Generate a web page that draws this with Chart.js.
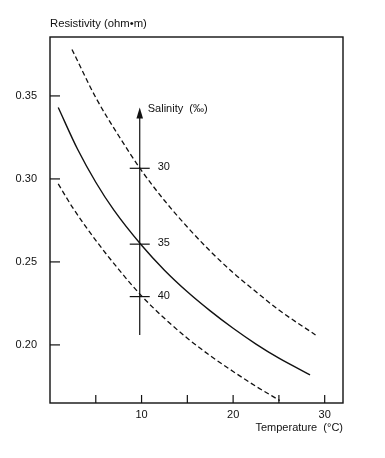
<!DOCTYPE html>
<html><head><meta charset="utf-8">
<script src="https://cdn.jsdelivr.net/npm/chart.js@4/dist/chart.umd.min.js"></script>
<style>html,body{margin:0;padding:0;background:#fff}canvas{display:block}</style>
</head><body>
<canvas id="c" width="385" height="458"></canvas>
<script>
// Temperature (°C) and resistivity (ohm·m)
const tempS30 = [2.4, 5, 7.5, 10, 12.5, 15, 17.5, 20, 22.5, 25, 29];
const resS30  = [0.378, 0.349, 0.326, 0.305, 0.287, 0.271, 0.2565, 0.2435, 0.232, 0.221, 0.206];
const tempS35 = [0.9, 3, 5, 7, 10, 12.5, 15, 17.5, 20, 22.5, 25, 28.4];
const resS35  = [0.343, 0.318, 0.298, 0.281, 0.260, 0.245, 0.232, 0.2205, 0.210, 0.2005, 0.192, 0.182];
const tempS40 = [0.9, 2.5, 5, 7.5, 10, 12.5, 15, 17.5, 20, 22.5, 25.1];
const resS40  = [0.297, 0.2825, 0.263, 0.2455, 0.2295, 0.216, 0.204, 0.1935, 0.184, 0.175, 0.1665];

const xTicks = [5, 10, 15, 20, 25, 30];
const xTickLabels = ['', '10', '', '20', '', '30'];
const yTicks = [0.20, 0.25, 0.30, 0.35];
const yTickLabels = ['0.20', '0.25', '0.30', '0.35'];

// Salinity scale drawn inside the plot
const salinityAxisTemp = 9.8;
const salinityAxisRange = [0.206, 0.343];
const salinityValues = ['30', '35', '40'];
const salinityRes = [0.3064, 0.2607, 0.2291];

const yTitle = 'Resistivity (ohm•m)';
const xTitle = 'Temperature  (°C)';
const salTitle = 'Salinity  (‰)';

const FONT = '"Liberation Sans", Arial, sans-serif';
const INK = '#111';

function pts(t, r) { return t.map((v, i) => ({x: v, y: r[i]})); }

const decor = {
  id: 'decor',
  afterDraw(chart) {
    const {ctx, chartArea: a, scales: {x, y}} = chart;
    ctx.save();
    ctx.strokeStyle = INK; ctx.fillStyle = INK; ctx.lineWidth = 1.4;
    // frame
    ctx.strokeRect(a.left, a.top, a.right - a.left, a.bottom - a.top);
    // inner ticks
    ctx.lineWidth = 1.2;
    yTicks.forEach(v => { const py = y.getPixelForValue(v); ctx.beginPath(); ctx.moveTo(a.left, py); ctx.lineTo(a.left + 10, py); ctx.stroke(); });
    xTicks.forEach(v => { const px = x.getPixelForValue(v); ctx.beginPath(); ctx.moveTo(px, a.bottom); ctx.lineTo(px, a.bottom - 8); ctx.stroke(); });
    // salinity axis
    const sx = x.getPixelForValue(salinityAxisTemp);
    const y0 = y.getPixelForValue(salinityAxisRange[0]);
    const y1 = y.getPixelForValue(salinityAxisRange[1]);
    ctx.lineWidth = 1.2;
    ctx.beginPath(); ctx.moveTo(sx, y0); ctx.lineTo(sx, y1 + 6); ctx.stroke();
    ctx.beginPath(); ctx.moveTo(sx, y1); ctx.lineTo(sx - 3.3, y1 + 11); ctx.lineTo(sx + 3.3, y1 + 11); ctx.closePath(); ctx.fill();
    ctx.font = '11px ' + FONT;
    ctx.textBaseline = 'middle'; ctx.textAlign = 'left';
    ctx.fillText(salTitle, sx + 8, y1 + 1);
    salinityRes.forEach((v, i) => {
      const py = y.getPixelForValue(v);
      ctx.beginPath(); ctx.moveTo(sx - 10, py); ctx.lineTo(sx + 10, py); ctx.stroke();
      ctx.fillText(salinityValues[i], sx + 18, py - 1);
    });
    // y title
    ctx.font = '11.3px ' + FONT;
    ctx.fillText(yTitle, a.left, 24);
    ctx.restore();
  }
};

new Chart(document.getElementById('c'), {
  type: 'line',
  data: {
    datasets: [
      {data: pts(tempS30, resS30), borderColor: INK, borderWidth: 1.3, borderDash: [5, 3], pointRadius: 0, cubicInterpolationMode: 'monotone', fill: false},
      {data: pts(tempS35, resS35), borderColor: INK, borderWidth: 1.4, pointRadius: 0, cubicInterpolationMode: 'monotone', fill: false},
      {data: pts(tempS40, resS40), borderColor: INK, borderWidth: 1.3, borderDash: [5, 3], pointRadius: 0, cubicInterpolationMode: 'monotone', fill: false}
    ]
  },
  options: {
    responsive: false, animation: false, devicePixelRatio: 1,
    layout: {padding: {top: 37, right: 42, left: 0, bottom: 0}},
    plugins: {legend: {display: false}, tooltip: {enabled: false}},
    scales: {
      x: {
        type: 'linear', min: 0, max: 32,
        grid: {display: false, drawTicks: false},
        border: {display: false},
        afterFit(s) { s.height = 55; },
        afterBuildTicks(s) { s.ticks = xTicks.map(v => ({value: v})); },
        ticks: {
          autoSkip: false, maxRotation: 0, padding: 5, color: INK,
          font: {family: FONT, size: 11},
          callback: (v) => xTickLabels[xTicks.indexOf(v)] ?? ''
        },
        title: {display: true, text: xTitle, align: 'end', color: INK, font: {family: FONT, size: 11}, padding: {top: 0, bottom: 23.5}}
      },
      y: {
        type: 'linear', min: 0.165, max: 0.3855,
        grid: {display: false, drawTicks: false},
        border: {display: false},
        afterFit(s) { s.width = 50; },
        afterBuildTicks(s) { s.ticks = yTicks.map(v => ({value: v})); },
        ticks: {
          autoSkip: false, padding: 13, color: INK,
          font: {family: FONT, size: 11},
          callback: (v) => yTickLabels[yTicks.findIndex(t => Math.abs(t - v) < 1e-9)] ?? ''
        }
      }
    }
  },
  plugins: [decor]
});
</script>
</body></html>
